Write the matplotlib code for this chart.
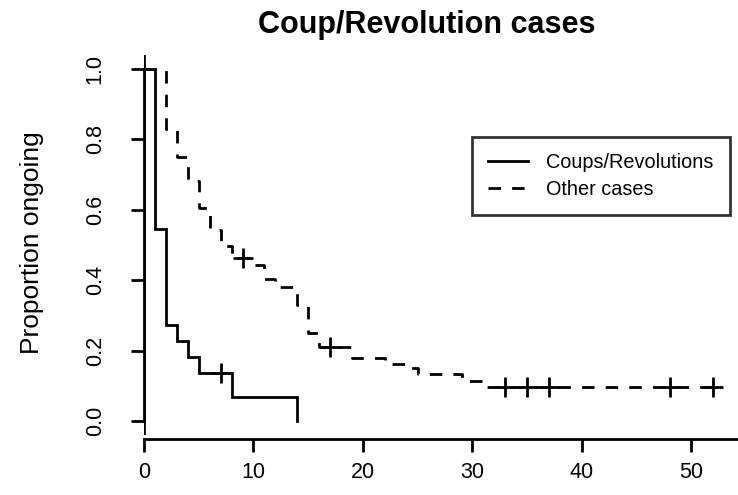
import numpy as np
import matplotlib
matplotlib.use("Agg")
import matplotlib.pyplot as plt

# --- DATA ---
# Coups/Revolutions: event times and Kaplan-Meier survival after each event
coup_times = [0, 1, 2, 3, 4, 5, 8, 14]
coup_surv = [1.0, 0.545, 0.273, 0.227, 0.182, 0.136, 0.068, 0.0]
coup_censor = [7]

# Other cases
other_times = [0, 2, 3, 4, 5, 6, 7, 8, 10, 11, 12, 14, 15, 16, 19, 22, 24, 25, 29, 31, 52]
other_surv = [1.0, 0.83, 0.75, 0.682, 0.605, 0.543, 0.497, 0.463, 0.443, 0.403, 0.38,
              0.33, 0.25, 0.21, 0.179, 0.162, 0.151, 0.132, 0.113, 0.097, 0.097]
other_censor = [9, 17, 33, 35, 37, 48, 52]

x_ticks = [0, 10, 20, 30, 40, 50]
y_ticks = [0.0, 0.2, 0.4, 0.6, 0.8, 1.0]

OUTPUT_IMAGE_FILE = "out.png"
FONT = "Liberation Sans"
LW = 2.0


def surv_at(times, surv, t):
    """Value of the step function at time t."""
    idx = np.searchsorted(times, t, side="right") - 1
    return np.asarray(surv)[idx]


plt.rcParams["font.family"] = [FONT, "DejaVu Sans"]

fig = plt.figure(figsize=(7.38, 4.95), dpi=100)
ax = fig.add_axes([144 / 738, 1 - 435 / 495, (738 - 144) / 738, 380 / 495])

dash = (4.5, 4.0)

# curves
ax.step(coup_times, coup_surv, where="post", color="black", lw=LW,
        label="Coups/Revolutions", solid_joinstyle="miter")
ax.step(other_times, other_surv, where="post", color="black", lw=LW,
        dashes=dash, label="Other cases")

# censoring marks
ax.plot(coup_censor, surv_at(coup_times, coup_surv, coup_censor), "+",
        color="black", ms=15, mew=2.0)
ax.plot(other_censor, surv_at(other_times, other_surv, other_censor), "+",
        color="black", ms=15, mew=2.0)

ax.axvline(0, color="black", lw=LW)

# axes, R style
ax.set_xlim(0, 54.25)
ax.set_ylim(-0.04, 1.04)
for side in ["top", "right"]:
    ax.spines[side].set_visible(False)
ax.spines["left"].set_bounds(0, 1)
ax.spines["left"].set_linewidth(LW)
ax.spines["bottom"].set_linewidth(LW)
ax.spines["bottom"].set_position(("outward", 3))

ax.set_xticks(x_ticks)
ax.set_xticklabels([str(t) for t in x_ticks])
ax.set_yticks(y_ticks)
ax.set_yticklabels([f"{t:.1f}" for t in y_ticks])
ax.tick_params(axis="both", direction="out", length=9.5, width=LW, labelsize=15.5)
ax.tick_params(axis="x", pad=7)
ax.tick_params(axis="y", pad=18, labelrotation=90)
for lab in ax.get_yticklabels():
    lab.set_va("center")

ax.set_ylabel("Proportion ongoing", fontsize=19)
ax.yaxis.set_label_coords(-0.168, 0.505)

fig.text(427 / 738, 1 - 25 / 495, "Coup/Revolution cases", ha="center", va="center",
         fontsize=22, fontweight="bold")

leg = ax.legend(loc="upper left", bbox_to_anchor=(472 / 738, 1 - 137 / 495),
                bbox_transform=fig.transFigure, borderaxespad=0, fancybox=False,
                frameon=True, edgecolor="black", fontsize=14.3, handlelength=2.0,
                handletextpad=0.95, borderpad=0.8, labelspacing=0.4)
leg.get_frame().set_linewidth(LW)

fig.savefig(OUTPUT_IMAGE_FILE, dpi=100)
